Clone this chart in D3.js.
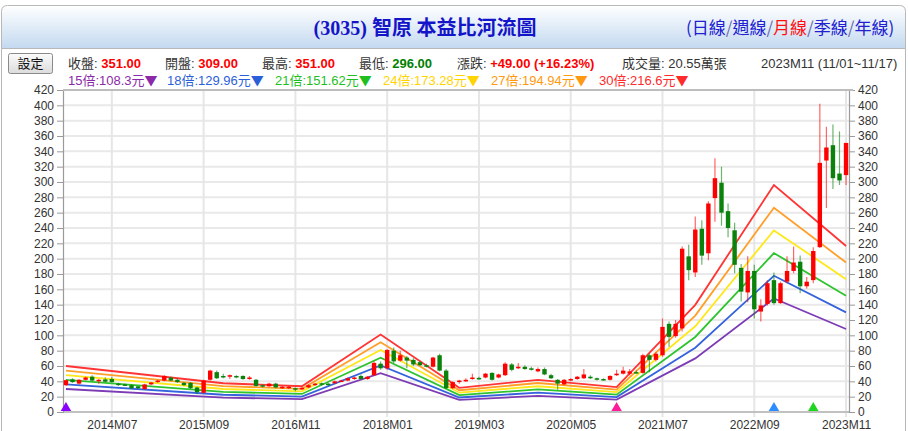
<!DOCTYPE html>
<html><head><meta charset="utf-8">
<script src="https://cdn.jsdelivr.net/npm/d3@7"></script>
<style>
body{margin:0;background:#fff;}
svg{display:block;font-family:Arial,"Liberation Sans","Noto Sans CJK TC",sans-serif;}
</style></head><body>
<svg id="c" width="908" height="431"></svg>
<script>
// ---------------- data ----------------
const months = [
 "2013M12",
 "2014M01","2014M02","2014M03","2014M04","2014M05","2014M06","2014M07","2014M08","2014M09","2014M10","2014M11","2014M12",
 "2015M01","2015M02","2015M03","2015M04","2015M05","2015M06","2015M07","2015M08","2015M09","2015M10","2015M11","2015M12",
 "2016M01","2016M02","2016M03","2016M04","2016M05","2016M06","2016M07","2016M08","2016M09","2016M10","2016M11","2016M12",
 "2017M01","2017M02","2017M03","2017M04","2017M05","2017M06","2017M07","2017M08","2017M09","2017M10","2017M11","2017M12",
 "2018M01","2018M02","2018M03","2018M04","2018M05","2018M06","2018M07","2018M08","2018M09","2018M10","2018M11","2018M12",
 "2019M01","2019M02","2019M03","2019M04","2019M05","2019M06","2019M07","2019M08","2019M09","2019M10","2019M11","2019M12",
 "2020M01","2020M02","2020M03","2020M04","2020M05","2020M06","2020M07","2020M08","2020M09","2020M10","2020M11","2020M12",
 "2021M01","2021M02","2021M03","2021M04","2021M05","2021M06","2021M07","2021M08","2021M09","2021M10","2021M11","2021M12",
 "2022M01","2022M02","2022M03","2022M04","2022M05","2022M06","2022M07","2022M08","2022M09","2022M10","2022M11","2022M12",
 "2023M01","2023M02","2023M03","2023M04","2023M05","2023M06","2023M07","2023M08","2023M09","2023M10","2023M11"
];
const openP = [35,42.5,37,42,46,41,42.5,43,37,36,35,33.5,30,36,39,41,45,42,38,38,32,25,42,52,47,46,47,47,43,42,
 35,33.5,37,31,31.5,31,30,32,35,37.5,37,37.5,40,41,43,47,43,48,63,57,80,67,71,68,65,61,59,74,54,31,
 39,40,43,44.5,45,51,45,48,62,57,59,57,53,56,48,42,36,41,43,44,46,44,43,42,48,50,50,52,51,74,
 68,74,115,99,109,203,182,239,207,279,299,262,237,188,156,184,131,141,172,142,170,184,196,164,172,215,328,348,311,309];
const highP = [42,44,43,46,48,43,45,46,38,37,36,34,37,39,42,48,46,44,39,39,33,42,55,54,50,49,48,48,47,43,
 36,38,38,34,34,32,33,36,38,38.5,38,41,42,45,46,49,47,66,66,82,84,80,73,70,67,63,72,76,56,40,
 42,44,50,46,51,52,50,65,64,64,61,59,58,58,50,43,43,44,47,56,48,45,44,48,55,59,56,54,76,76,
 78,122,118,120,216,218,255,250,275,331,320,272,247,193,203,192,147,172,182,170,203,216,204,176,215,402,372,375,366,351];
const lowP = [34,38,36,41,40,37,39,38,34,34,30,30,29,35,38,40,40,38,34,30,23,24,41,43,44,43,44,42,42,33,
 32,33,31,30,30,27,29,31,34,35,34,37,39,40,42,42,42,47,55,55,64,66,57,60,60,58,58,53,30,30,
 37,39,42,42,44,41,44,47,53,56,55,54,52,48,43,29,35,40,42,43,43,41,41,41,47,49,48,50,50,52,
 66,72,85,97,105,172,176,192,198,248,243,228,181,144,143,122,118,139,140,141,168,181,155,161,168,214,266,291,296,296];
const closeP = [41.5,39,42,45,41,42,39.5,39,35.5,35,31,31,36,38.5,41,47,41,39,35,31,26,41,54,44,45,48,46,43,45,34,
 33,37,32,33,33,29.5,31.5,35,37,36,35.5,40,41,44,45,43,46,64,57,81,66,74,67,62,61,59,71,54,31,39,
 41,42,45,43.5,50,42,49,63,55,59,56,55,56,49,44,37,42,43,46,49,44,42,42,47,50,54,53,51,74,68,
 76,111,98,115,213,185,238,204,272,305,260,240,192,157,184,134,139,168,142,168,184,195,164,170,210,325,345,305,302,351];

// EPS (trailing) at the river's vertices, in 元
const epsMonths = ["2013M12","2015M12","2016M12","2017M12","2018M12","2019M12","2020M12","2021M12","2022M12","2023M11"];
const epsValues = [2.0,1.25,1.12,3.37,1.05,1.40,1.08,4.66,9.87,7.22];
const multiples = [15,18,21,24,27,30];
const riverColors = ["#7d3cb5","#3563de","#2ec42e","#ffe81a","#ff9f2a","#ff3434"];
const legendColors = ["#8a2aa8","#2b5fd9","#1fbf1f","#ffd400","#ff9a10","#ff2a2a"];

const markerMonths = ["2013M12","2020M12","2022M12","2023M06"];
const markerColors = ["#8a00ff","#ff1a9a","#2d8cff","#22d422"];

const yTicks = [0,20,40,60,80,100,120,140,160,180,200,220,240,260,280,300,320,340,360,380,400,420];
const xTicks = ["2014M07","2015M09","2016M11","2018M01","2019M03","2020M05","2021M07","2022M09","2023M11"];

const volumeText = "20.55萬張";
const periodText = "2023M11 (11/01~11/17)";

// ---------------- layout ----------------
const L = 63, R = 849, T = 90, B = 412;
const svg = d3.select("#c");
const defs = svg.append("defs");
const tg = defs.append("linearGradient").attr("id","tg").attr("x1",0).attr("y1",0).attr("x2",0).attr("y2",1);
tg.append("stop").attr("offset","0%").attr("stop-color","#ffffff");
tg.append("stop").attr("offset","100%").attr("stop-color","#c3d9f0");
const bg = defs.append("linearGradient").attr("id","bg").attr("x1",0).attr("y1",0).attr("x2",0).attr("y2",1);
bg.append("stop").attr("offset","0%").attr("stop-color","#fbfbfb");
bg.append("stop").attr("offset","100%").attr("stop-color","#dcdcdc");

// outer frame + title bar
svg.append("path")
  .attr("d","M1.5,48.5 V11.5 Q1.5,5.5 7.5,5.5 H899.5 Q905.5,5.5 905.5,11.5 V48.5 Z")
  .attr("fill","url(#tg)").attr("stroke","#b8b8b8");
svg.append("path").attr("d","M1.5,48.5 V431 M905.5,48.5 V431").attr("stroke","#b8b8b8").attr("fill","none");

const title = svg.append("text").attr("x",425).attr("y",34.5).attr("text-anchor","middle")
  .attr("fill","#1414c8").attr("font-weight","bold").attr("font-size",20);
title.append("tspan").attr("font-family","'Liberation Serif','Times New Roman',serif").text("(3035) ");
title.append("tspan").attr("font-family","'Noto Sans CJK TC',sans-serif").text("智原 本益比河流圖");

const links = [["(", "#2020d0"],["日線","#2020d0"],["/","#6a6ab0"],["週線","#2020d0"],["/","#6a6ab0"],
  ["月線","#ff1010"],["/","#6a6ab0"],["季線","#2020d0"],["/","#6a6ab0"],["年線","#2020d0"],[")","#2020d0"]];
const lt = svg.append("text").attr("x",686).attr("y",34).attr("font-size",17)
  .attr("font-family","'Noto Sans CJK TC',sans-serif");
links.forEach(([t,c]) => lt.append("tspan").attr("fill",c).text(t));

// button
svg.append("rect").attr("x",8.5).attr("y",53.5).attr("width",44).attr("height",20).attr("rx",2)
  .attr("fill","url(#bg)").attr("stroke","#8a8a8a");
svg.append("text").attr("x",30.5).attr("y",68).attr("text-anchor","middle").attr("font-size",13)
  .attr("fill","#111").text("設定");

// info row
const n = closeP.length;
const lastC = closeP[n-1], prevC = closeP[n-2];
const chg = lastC - prevC;
const f2 = d3.format(".2f");
function info(x, label, value, color){
  const t = svg.append("text").attr("x",x).attr("y",68).attr("font-size",13);
  t.append("tspan").attr("fill","#333").text(label);
  if (value !== null) t.append("tspan").attr("fill",color).attr("font-weight","bold").text(value);
}
info(68,"收盤: ", f2(lastC), "#ff0000");
info(165,"開盤: ", f2(openP[n-1]), "#ff0000");
info(262,"最高: ", f2(highP[n-1]), "#ff0000");
info(359,"最低: ", f2(lowP[n-1]), "#008000");
info(457,"漲跌: ", (chg>=0?"+":"")+f2(chg)+"  ("+(chg>=0?"+":"")+f2(chg/prevC*100)+"%)", "#ff0000");
info(622,"成交量: "+volumeText, null);
info(761,periodText, null);

// legend row
const lastEps = epsValues[epsValues.length-1];
const legX = [68,167,275,383,491,599];
multiples.forEach((m,i)=>{
  const t = svg.append("text").attr("x",legX[i]).attr("y",84.5).attr("font-size",13).attr("fill",legendColors[i]);
  t.append("tspan").text(m+"倍:"+(+(m*lastEps).toFixed(2))+"元");
  t.append("tspan").attr("font-family","'Noto Sans CJK TC',sans-serif").text("▼");
});

// scales
const x = d3.scalePoint().domain(months).range([L,R]).padding(0.45);
const y = d3.scaleLinear().domain([0,420]).range([B,T]);

// grid
const grid = svg.append("g");
grid.selectAll("line.h").data(yTicks).join("line").attr("class","h")
  .attr("x1",L).attr("x2",R).attr("y1",d=>y(d)).attr("y2",d=>y(d))
  .attr("stroke","#e9e9e9").attr("stroke-width",2);
grid.selectAll("line.v").data(xTicks).join("line").attr("class","v")
  .attr("x1",d=>x(d)).attr("x2",d=>x(d)).attr("y1",T).attr("y2",B+5)
  .attr("stroke","#e6e6e6").attr("stroke-width",2);

// axes
const axL = svg.append("g").attr("transform",`translate(${L},0)`)
  .call(d3.axisLeft(y).tickValues(yTicks).tickSize(6).tickPadding(3));
const axR = svg.append("g").attr("transform",`translate(${R},0)`)
  .call(d3.axisRight(y).tickValues(yTicks).tickSize(6).tickPadding(3));
const axB = svg.append("g").attr("transform",`translate(0,${B})`)
  .call(d3.axisBottom(x).tickValues(xTicks).tickSize(0).tickPadding(8));
[axL,axR,axB].forEach(a=>{
  a.selectAll("path.domain").attr("stroke","#9a9a9a").attr("stroke-width",1.2);
  a.selectAll(".tick line").attr("stroke","#9a9a9a");
  a.selectAll("text").attr("fill","#333").attr("font-size",12)
   .attr("font-family","Arial,'Liberation Sans',sans-serif");
});
axB.select("path.domain").remove();
svg.append("line").attr("x1",L).attr("x2",R).attr("y1",B).attr("y2",B).attr("stroke","#9a9a9a").attr("stroke-width",1.2);
svg.append("line").attr("x1",L).attr("x2",R+4).attr("y1",T).attr("y2",T).attr("stroke","#bdbdbd").attr("stroke-width",2);

// river lines
const riverLine = d3.line().x(d=>x(d.m)).y(d=>y(d.v));
multiples.forEach((m,i)=>{
  const pts = epsMonths.map((mm,k)=>({m:mm, v:m*epsValues[k]}));
  svg.append("path").datum(pts).attr("d",riverLine).attr("fill","none")
    .attr("stroke",riverColors[i]).attr("stroke-width",1.8).attr("stroke-linejoin","miter");
});

// candlesticks
const candles = months.map((m,i)=>({m,o:openP[i],h:highP[i],l:lowP[i],c:closeP[i]}));
const cg = svg.append("g");
const col = d => d.c >= d.o ? "#ff0000" : "#0b820b";
cg.selectAll("line.w").data(candles).join("line").attr("class","w")
  .attr("x1",d=>x(d.m)).attr("x2",d=>x(d.m)).attr("y1",d=>y(d.h)).attr("y2",d=>y(d.l))
  .attr("stroke",col).attr("stroke-width",1.2).attr("stroke-opacity",0.6);
cg.selectAll("rect").data(candles).join("rect")
  .attr("x",d=>x(d.m)-2.2).attr("width",4.4)
  .attr("y",d=>y(Math.max(d.o,d.c)))
  .attr("height",d=>Math.max(1.5, Math.abs(y(d.o)-y(d.c))))
  .attr("fill",col);

// markers
const tri = d3.symbol().type(d3.symbolTriangle).size(48);
svg.selectAll("path.mk").data(markerMonths).join("path").attr("class","mk")
  .attr("d",tri).attr("transform",d=>`translate(${x(d)},${B-4})`)
  .attr("fill",(d,i)=>markerColors[i]);
</script>
</body></html>
